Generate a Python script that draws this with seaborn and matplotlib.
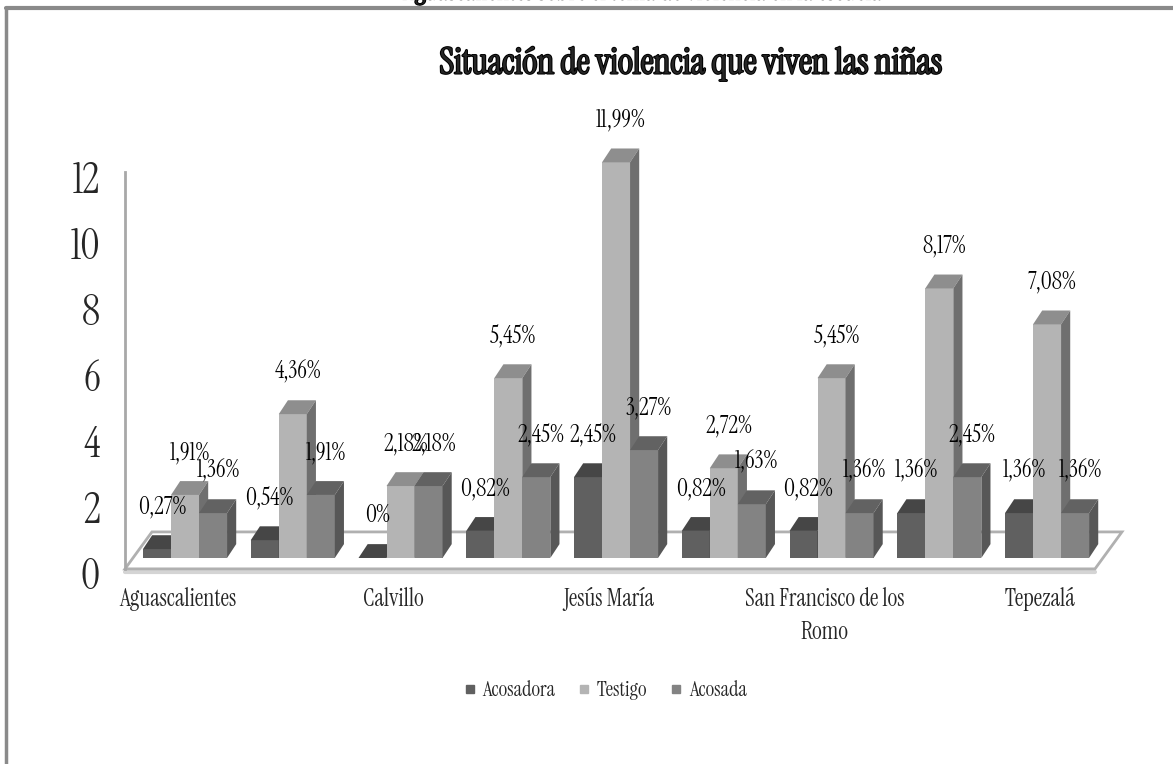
import matplotlib
matplotlib.use("Agg")
import matplotlib.pyplot as plt
from matplotlib import transforms, patheffects
from matplotlib.patches import Polygon
from matplotlib.lines import Line2D
import pandas as pd
import seaborn as sns

# datos (porcentajes)
municipios = ["Aguascalientes", "Asientos", "Calvillo", "Cosío", "Jesús María",
              "Pabellón de Arteaga", "San Francisco de los Romo", "San José de Gracia", "Tepezalá"]
etiquetas_x = ["Aguascalientes", "", "Calvillo", "", "Jesús María", "",
               "San Francisco de los\nRomo", "", "Tepezalá"]
tipos = ["Acosadora", "Testigo", "Acosada"]
acosadora = [0.27, 0.54, 0, 0.82, 2.45, 0.82, 0.82, 1.36, 1.36]
testigo = [1.91, 4.36, 2.18, 5.45, 11.99, 2.72, 5.45, 8.17, 7.08]
acosada = [1.36, 1.91, 2.18, 2.45, 3.27, 1.63, 1.36, 2.45, 1.36]
yticks = [0, 2, 4, 6, 8, 10, 12]
titulo = "Situación de violencia que viven las niñas"
encabezado = "Aguascalientes sobre el tema de violencia en la escuela"

df = pd.DataFrame({
    "municipio": municipios * 3,
    "tipo": [t for t in tipos for _ in municipios],
    "valor": acosadora + testigo + acosada,
})

sns.set_theme(style="white")
plt.rcParams["font.family"] = ["Instrument Serif", "Liberation Serif", "DejaVu Serif"]

front = {"Acosadora": "#606060", "Testigo": "#b4b4b4", "Acosada": "#838383"}
top = {"Acosadora": "#464646", "Testigo": "#8e8e8e", "Acosada": "#626262"}
side = {"Acosadora": "#404040", "Testigo": "#6f6f6f", "Acosada": "#575757"}

W, H = 1173, 764
fig = plt.figure(figsize=(W / 100, H / 100), dpi=100)
ax = fig.add_axes([125 / W, 194 / H, (1095 - 125) / W, (624 - 194) / H])

sns.barplot(data=df, x="municipio", y="valor", hue="tipo", order=municipios, hue_order=tipos,
            palette=front, width=0.78, saturation=1, edgecolor="none", linewidth=0,
            legend=False, ax=ax, zorder=3)

ax.set_xlim(-0.557, 8.445)
ax.set_ylim(-0.364, 12.667)

# profundidad (efecto 3D) para cada barra
dx, dy = 0.085, 0.42
bars = []
for tipo, cont in zip(tipos, ax.containers):
    for p in cont.patches:
        bars.append((p.get_x(), tipo, p))
bars.sort(key=lambda b: b[0])
for k, (x0, tipo, p) in enumerate(bars):
    z = 3 + k * 0.01
    p.set_zorder(z)
    x1 = x0 + p.get_width()
    h = p.get_height()
    ax.add_patch(Polygon([(x0, h), (x0 + dx, h + dy), (x1 + dx, h + dy), (x1, h)],
                         closed=True, fc=top[tipo], ec="none", zorder=z, clip_on=False))
    ax.add_patch(Polygon([(x1, 0), (x1 + dx, dy), (x1 + dx, h + dy), (x1, h)],
                         closed=True, fc=side[tipo], ec="none", zorder=z, clip_on=False))

# etiquetas de valor
for tipo, cont, vals in zip(tipos, ax.containers, [acosadora, testigo, acosada]):
    for p, v in zip(cont.patches, vals):
        txt = (f"{v:.2f}" if v else "0").replace(".", ",") + "%"
        ax.annotate(txt, xy=(p.get_x() + p.get_width() / 2, v), xytext=(5, 43),
                    textcoords="offset pixels", ha="center", va="center",
                    fontsize=17, color="black", zorder=10, annotation_clip=False)

# piso
x_l, x_r = ax.get_xlim()
fy = -0.33
fdx, fdy = 0.25, 1.12
floor = [(x_l, fy), (x_l + fdx, fy + fdy), (x_r + fdx, fy + fdy), (x_r, fy)]
ax.add_patch(Polygon(floor, closed=True, fc="white", ec="#b0b0b0", lw=2, zorder=1, clip_on=False))
ax.plot([x_l, x_r], [fy - 0.08, fy - 0.08], color="#d4d4d4", lw=3, zorder=0.9, clip_on=False)

# ejes
for s in ["top", "right", "bottom"]:
    ax.spines[s].set_visible(False)
ax.spines["left"].set_color("#a8a8a8")
ax.spines["left"].set_linewidth(2)
ax.spines["left"].set_bounds(fy, 11.7)
ax.set_xlabel("")
ax.set_ylabel("")
ax.set_yticks(yticks)
ax.set_yticklabels([str(t) for t in yticks], fontsize=30)
ax.tick_params(axis="y", length=0, pad=18)
ax.tick_params(axis="x", length=0, pad=12)
ax.set_xticks(range(len(municipios)))
ax.set_xticklabels(etiquetas_x, fontsize=17, linespacing=1.5)
off_y = transforms.ScaledTranslation(0, -15 / 100, fig.dpi_scale_trans)
for lab in ax.get_yticklabels():
    lab.set_transform(lab.get_transform() + off_y)
off_x = transforms.ScaledTranslation(-7 / 100, 0, fig.dpi_scale_trans)
for lab in ax.get_xticklabels():
    lab.set_transform(lab.get_transform() + off_x)

# título
negrita = [patheffects.withStroke(linewidth=1.5, foreground="black")]
fig.text(691 / W, 1 - 64 / H, titulo, ha="center", va="center", fontsize=26,
         path_effects=negrita)
fig.text(642 / W, 1 + 1 / H, encabezado, ha="center", va="baseline", fontsize=19,
         path_effects=negrita)

# marco
fig.add_artist(Line2D([6 / W, 6 / W], [0, 1 - 8 / H], color="#8a8a8a", lw=2.5))
fig.add_artist(Line2D([6 / W, 1], [1 - 8 / H, 1 - 8 / H], color="#8a8a8a", lw=3))

# leyenda
handles = [Line2D([], [], marker="s", ls="", color=front[t], markersize=6) for t in tipos]
fig.legend(handles, tipos, loc="center", bbox_to_anchor=(602 / W, 1 - 690 / H), ncol=3,
           frameon=False, fontsize=15, handletextpad=0.0, columnspacing=0.8,
           handlelength=1.2)

fig.savefig("out.png", dpi=100)
